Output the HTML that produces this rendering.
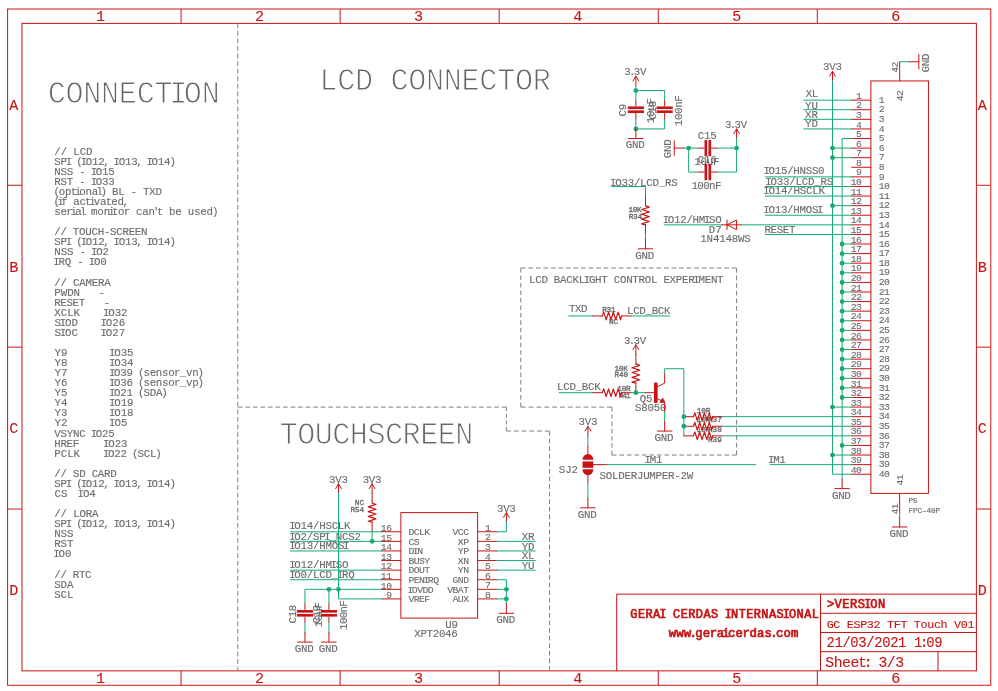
<!DOCTYPE html>
<html lang="en"><head><meta charset="utf-8"><title>GC ESP32 TFT Touch V01 - Sheet 3/3</title>
<style>
html,body{margin:0;padding:0;background:#fff;}
svg{display:block;will-change:transform;}
text{font-family:"Liberation Mono",monospace;white-space:pre;}
</style></head><body>
<svg width="998" height="691" viewBox="0 0 998 691" fill="none" stroke-linecap="butt">
<rect x="0" y="0" width="998" height="691" fill="#ffffff"/>
<text x="95.98" y="21.3" font-size="15.13" fill="#c81414" stroke="#c81414" stroke-width="0.12">1</text>
<text x="95.98" y="683.35" font-size="15.13" fill="#c81414" stroke="#c81414" stroke-width="0.12">1</text>
<text x="255.05" y="21.3" font-size="15.13" fill="#c81414" stroke="#c81414" stroke-width="0.12">2</text>
<text x="255.05" y="683.35" font-size="15.13" fill="#c81414" stroke="#c81414" stroke-width="0.12">2</text>
<text x="414.12" y="21.3" font-size="15.13" fill="#c81414" stroke="#c81414" stroke-width="0.12">3</text>
<text x="414.12" y="683.35" font-size="15.13" fill="#c81414" stroke="#c81414" stroke-width="0.12">3</text>
<text x="573.18" y="21.3" font-size="15.13" fill="#c81414" stroke="#c81414" stroke-width="0.12">4</text>
<text x="573.18" y="683.35" font-size="15.13" fill="#c81414" stroke="#c81414" stroke-width="0.12">4</text>
<text x="732.25" y="21.3" font-size="15.13" fill="#c81414" stroke="#c81414" stroke-width="0.12">5</text>
<text x="732.25" y="683.35" font-size="15.13" fill="#c81414" stroke="#c81414" stroke-width="0.12">5</text>
<text x="891.32" y="21.3" font-size="15.13" fill="#c81414" stroke="#c81414" stroke-width="0.12">6</text>
<text x="891.32" y="683.35" font-size="15.13" fill="#c81414" stroke="#c81414" stroke-width="0.12">6</text>
<text x="9.25" y="109.63" font-size="15.13" fill="#c81414" stroke="#c81414" stroke-width="0.12">A</text>
<text x="977.75" y="109.63" font-size="15.13" fill="#c81414" stroke="#c81414" stroke-width="0.12">A</text>
<text x="9.25" y="271.5" font-size="15.13" fill="#c81414" stroke="#c81414" stroke-width="0.12">B</text>
<text x="977.75" y="271.5" font-size="15.13" fill="#c81414" stroke="#c81414" stroke-width="0.12">B</text>
<text x="9.25" y="433.36" font-size="15.13" fill="#c81414" stroke="#c81414" stroke-width="0.12">C</text>
<text x="977.75" y="433.36" font-size="15.13" fill="#c81414" stroke="#c81414" stroke-width="0.12">C</text>
<text x="9.25" y="595.23" font-size="15.13" fill="#c81414" stroke="#c81414" stroke-width="0.12">D</text>
<text x="977.75" y="595.23" font-size="15.13" fill="#c81414" stroke="#c81414" stroke-width="0.12">D</text>
<text x="630.34 637.91 645.48 653.06 659.3 665.55 673.12 680.7 688.27 695.85 703.42 710.99 718.57 724.81 731.06 738.63 746.21 753.78 761.36 768.93 776.5 782.75 788.99 796.57 804.14 811.72" y="618.2" font-size="11.91" fill="#c81414" stroke="#c81414" stroke-width="0.7">GERAI CERDAS INTERNASIONAL</text>
<text x="668.77 676.26 683.76 689.53 695.3 702.8 709.79 716.78 722.35 727.92 735.41 742.4 749.39 756.88 764.38 770.15 775.92 783.42 790.91" y="636.9" font-size="12.36" fill="#c81414" stroke="#c81414" stroke-width="0.7">www.geraicerdas.com</text>
<text x="826.93 834.62 842.3 849.99 857.67 864 870.34 878.02" y="608.3" font-size="12.08" fill="#c81414" stroke="#c81414" stroke-width="0.7">&gt;VERSION</text>
<text x="826.64 833.34 840.04 846.75 853.45 860.15 866.86 873.56 880.27 886.97 893.67 900.38 907.08 913.78 920.49 927.19 933.89 940.6 947.3 954 960.71 967.41" y="628" font-size="11.75" fill="#c81414" stroke="#c81414" stroke-width="0.12">GC ESP32 TFT Touch V01</text>
<text x="826.51 834.46 842.41 850.36 858.32 866.27 874.22 882.17 890.13 898.08 906.03 913.98 920.11 926.23 934.19" y="647" font-size="13.85" fill="#c81414" stroke="#c81414" stroke-width="0.12">21/03/2021 1:09</text>
<text x="825.28 833.66 842.03 850.41 857.99 863.65 870.1 878.48 886.85 895.23" y="666.5" font-size="14.81" fill="#c81414" stroke="#c81414" stroke-width="0.12">Sheet: 3/3</text>
<text x="54.32 60.65 66.99 73.32 79.65 85.99" y="154.6" font-size="10.82" fill="#6c6c6c" stroke="#6c6c6c" stroke-width="0.12">// LCD</text>
<text x="54.29 60.56 65.73 70.9 76.33 80.67 85.84 92.11 98.37 103.37 108.37 113.54 118.7 124.97 131.24 136.24 141.24 146.4 151.57 157.84 164.11 169.54" y="164.67" font-size="10.82" fill="#6c6c6c" stroke="#6c6c6c" stroke-width="0.12">SPI (IO12, IO13, IO14)</text>
<text x="54.29 60.53 66.78 73.03 79.28 85.53 90.68 95.83 102.07 108.32" y="174.74" font-size="10.82" fill="#6c6c6c" stroke="#6c6c6c" stroke-width="0.12">NSS - IO15</text>
<text x="54.29 60.53 66.78 73.03 79.28 85.53 90.68 95.83 102.07 108.32" y="184.81" font-size="10.82" fill="#6c6c6c" stroke="#6c6c6c" stroke-width="0.12">RST - IO33</text>
<text x="53.45 58.83 65.03 70.65 74.67 79.28 85.49 91.69 96.47 100.43 105.81 112.01 118.22 124.42 130.62 136.83 143.03 149.24 155.44" y="194.88" font-size="10.82" fill="#6c6c6c" stroke="#6c6c6c" stroke-width="0.12">(optional) BL - TXD</text>
<text x="53.46 57.27 61.32 66.98 73.22 79.47 85.12 89.17 93.81 100.06 105.71 111.37 117.61 122.59" y="204.95" font-size="10.82" fill="#6c6c6c" stroke="#6c6c6c" stroke-width="0.12">(if activated,</text>
<text x="54.29 60.54 66.37 70.59 75.24 80.06 84.87 91.12 97.37 103.63 108.27 112.33 117.99 123.82 129.65 135.9 142.15 148.4 153.05 157.1 162.76 169.01 175.27 181.52 187.77 194.02 200.27 206.52 211.95" y="215.02" font-size="10.82" fill="#6c6c6c" stroke="#6c6c6c" stroke-width="0.12">serial monitor can&#x27;t be used)</text>
<text x="54.27 60.46 66.66 72.86 79.06 85.26 91.46 97.65 103.85 110.05 116.25 122.45 128.65 134.84 141.04" y="235.16" font-size="10.82" fill="#6c6c6c" stroke="#6c6c6c" stroke-width="0.12">// TOUCH-SCREEN</text>
<text x="54.29 60.56 65.73 70.9 76.33 80.67 85.84 92.11 98.37 103.37 108.37 113.54 118.7 124.97 131.24 136.24 141.24 146.4 151.57 157.84 164.11 169.54" y="245.23" font-size="10.82" fill="#6c6c6c" stroke="#6c6c6c" stroke-width="0.12">SPI (IO12, IO13, IO14)</text>
<text x="54.31 60.63 66.94 73.25 79.56 85.88 91.08 96.28 102.6" y="255.3" font-size="10.82" fill="#6c6c6c" stroke="#6c6c6c" stroke-width="0.12">NSS - IO2</text>
<text x="53.2 58.4 64.7 71 77.3 83.61 88.8 94 100.3" y="265.37" font-size="10.82" fill="#6c6c6c" stroke="#6c6c6c" stroke-width="0.12">IRQ - IO0</text>
<text x="54.29 60.54 66.8 73.05 79.3 85.56 91.81 98.07 104.32" y="285.51" font-size="10.82" fill="#6c6c6c" stroke="#6c6c6c" stroke-width="0.12">// CAMERA</text>
<text x="54.35 60.75 67.16 73.56" y="295.58" font-size="10.82" fill="#6c6c6c" stroke="#6c6c6c" stroke-width="0.12">PWDN</text>
<text x="98.5" y="295.58" font-size="10.82" fill="#6c6c6c" stroke="#6c6c6c" stroke-width="0.12">-</text>
<text x="54.23 60.34 66.45 72.57 78.68" y="305.65" font-size="10.82" fill="#6c6c6c" stroke="#6c6c6c" stroke-width="0.12">RESET</text>
<text x="103.65" y="305.65" font-size="10.82" fill="#6c6c6c" stroke="#6c6c6c" stroke-width="0.12">-</text>
<text x="54.35 60.75 67.16 73.56" y="315.72" font-size="10.82" fill="#6c6c6c" stroke="#6c6c6c" stroke-width="0.12">XCLK</text>
<text x="102.97 108.24 114.63 121.02" y="315.72" font-size="10.82" fill="#6c6c6c" stroke="#6c6c6c" stroke-width="0.12">IO32</text>
<text x="54.38 59.72 65.05 71.53" y="325.79" font-size="10.82" fill="#6c6c6c" stroke="#6c6c6c" stroke-width="0.12">SIOD</text>
<text x="100.58 105.87 112.29 118.7" y="325.79" font-size="10.82" fill="#6c6c6c" stroke="#6c6c6c" stroke-width="0.12">IO26</text>
<text x="54.38 59.72 65.05 71.53" y="335.86" font-size="10.82" fill="#6c6c6c" stroke="#6c6c6c" stroke-width="0.12">SIOC</text>
<text x="100.58 105.87 112.29 118.7" y="335.86" font-size="10.82" fill="#6c6c6c" stroke="#6c6c6c" stroke-width="0.12">IO27</text>
<text x="54.39 60.91" y="356" font-size="10.82" fill="#6c6c6c" stroke="#6c6c6c" stroke-width="0.12">Y9</text>
<text x="108.97 114.24 120.63 127.02" y="356" font-size="10.82" fill="#6c6c6c" stroke="#6c6c6c" stroke-width="0.12">IO35</text>
<text x="54.39 60.91" y="366.07" font-size="10.82" fill="#6c6c6c" stroke="#6c6c6c" stroke-width="0.12">Y8</text>
<text x="108.97 114.24 120.63 127.02" y="366.07" font-size="10.82" fill="#6c6c6c" stroke="#6c6c6c" stroke-width="0.12">IO34</text>
<text x="54.39 60.91" y="376.14" font-size="10.82" fill="#6c6c6c" stroke="#6c6c6c" stroke-width="0.12">Y7</text>
<text x="108.93 114.04 120.25 126.45 132.66 138.04 143.43 149.63 155.84 162.04 168.25 174.03 179.82 186.02 192.23 197.61" y="376.14" font-size="10.82" fill="#6c6c6c" stroke="#6c6c6c" stroke-width="0.12">IO39 (sensor_vn)</text>
<text x="54.39 60.91" y="386.21" font-size="10.82" fill="#6c6c6c" stroke="#6c6c6c" stroke-width="0.12">Y6</text>
<text x="108.93 114.04 120.25 126.45 132.66 138.04 143.43 149.63 155.84 162.04 168.25 174.03 179.82 186.02 192.23 197.61" y="386.21" font-size="10.82" fill="#6c6c6c" stroke="#6c6c6c" stroke-width="0.12">IO36 (sensor_vp)</text>
<text x="54.39 60.91" y="396.28" font-size="10.82" fill="#6c6c6c" stroke="#6c6c6c" stroke-width="0.12">Y5</text>
<text x="108.93 114.06 120.27 126.49 132.7 138.09 143.49 149.7 155.92 161.31" y="396.28" font-size="10.82" fill="#6c6c6c" stroke="#6c6c6c" stroke-width="0.12">IO21 (SDA)</text>
<text x="54.39 60.91" y="406.35" font-size="10.82" fill="#6c6c6c" stroke="#6c6c6c" stroke-width="0.12">Y4</text>
<text x="108.97 114.24 120.63 127.02" y="406.35" font-size="10.82" fill="#6c6c6c" stroke="#6c6c6c" stroke-width="0.12">IO19</text>
<text x="54.39 60.91" y="416.42" font-size="10.82" fill="#6c6c6c" stroke="#6c6c6c" stroke-width="0.12">Y3</text>
<text x="108.97 114.24 120.63 127.02" y="416.42" font-size="10.82" fill="#6c6c6c" stroke="#6c6c6c" stroke-width="0.12">IO18</text>
<text x="54.39 60.91" y="426.49" font-size="10.82" fill="#6c6c6c" stroke="#6c6c6c" stroke-width="0.12">Y2</text>
<text x="109.01 114.4 120.95" y="426.49" font-size="10.82" fill="#6c6c6c" stroke="#6c6c6c" stroke-width="0.12">IO5</text>
<text x="54.29 60.53 66.78 73.03 79.28 85.53 90.68 95.83 102.07 108.32" y="436.56" font-size="10.82" fill="#6c6c6c" stroke="#6c6c6c" stroke-width="0.12">VSYNC IO25</text>
<text x="54.25 60.42 66.59 72.75" y="446.63" font-size="10.82" fill="#6c6c6c" stroke="#6c6c6c" stroke-width="0.12">HREF</text>
<text x="102.97 108.24 114.63 121.02" y="446.63" font-size="10.82" fill="#6c6c6c" stroke="#6c6c6c" stroke-width="0.12">IO23</text>
<text x="54.35 60.75 67.16 73.56" y="456.7" font-size="10.82" fill="#6c6c6c" stroke="#6c6c6c" stroke-width="0.12">PCLK</text>
<text x="102.93 108.06 114.27 120.49 126.7 132.09 137.49 143.7 149.92 155.31" y="456.7" font-size="10.82" fill="#6c6c6c" stroke="#6c6c6c" stroke-width="0.12">IO22 (SCL)</text>
<text x="54.28 60.51 66.73 72.96 79.19 85.42 91.65 97.87 104.1 110.33" y="476.84" font-size="10.82" fill="#6c6c6c" stroke="#6c6c6c" stroke-width="0.12">// SD CARD</text>
<text x="54.29 60.56 65.73 70.9 76.33 80.67 85.84 92.11 98.37 103.37 108.37 113.54 118.7 124.97 131.24 136.24 141.24 146.4 151.57 157.84 164.11 169.54" y="486.91" font-size="10.82" fill="#6c6c6c" stroke="#6c6c6c" stroke-width="0.12">SPI (IO12, IO13, IO14)</text>
<text x="54.39 60.91" y="496.98" font-size="10.82" fill="#6c6c6c" stroke="#6c6c6c" stroke-width="0.12">CS</text>
<text x="77.58 82.88 89.3" y="496.98" font-size="10.82" fill="#6c6c6c" stroke="#6c6c6c" stroke-width="0.12">IO4</text>
<text x="54.3 60.59 66.87 73.15 79.44 85.72 92.01" y="517.12" font-size="10.82" fill="#6c6c6c" stroke="#6c6c6c" stroke-width="0.12">// LORA</text>
<text x="54.29 60.56 65.73 70.9 76.33 80.67 85.84 92.11 98.37 103.37 108.37 113.54 118.7 124.97 131.24 136.24 141.24 146.4 151.57 157.84 164.11 169.54" y="527.19" font-size="10.82" fill="#6c6c6c" stroke="#6c6c6c" stroke-width="0.12">SPI (IO12, IO13, IO14)</text>
<text x="54.31 60.6 66.9" y="537.26" font-size="10.82" fill="#6c6c6c" stroke="#6c6c6c" stroke-width="0.12">NSS</text>
<text x="54.31 60.6 66.9" y="547.33" font-size="10.82" fill="#6c6c6c" stroke="#6c6c6c" stroke-width="0.12">RST</text>
<text x="53.23 58.53 64.95" y="557.4" font-size="10.82" fill="#6c6c6c" stroke="#6c6c6c" stroke-width="0.12">IO0</text>
<text x="54.25 60.41 66.57 72.73 78.9 85.06" y="577.54" font-size="10.82" fill="#6c6c6c" stroke="#6c6c6c" stroke-width="0.12">// RTC</text>
<text x="54.31 60.6 66.9" y="587.61" font-size="10.82" fill="#6c6c6c" stroke="#6c6c6c" stroke-width="0.12">SDA</text>
<text x="54.31 60.6 66.9" y="597.68" font-size="10.82" fill="#6c6c6c" stroke="#6c6c6c" stroke-width="0.12">SCL</text>
<text transform="translate(49.6 103.3) scale(0.97 1)" x="-2.04 16.33 34.69 53.05 71.41 89.78 108.14 123.28 138.41 156.78" y="0" font-size="31.1" fill="#666666" stroke="#fff" stroke-width="1">CONNECTION</text>
<text transform="translate(321.4 89.5) scale(0.97 1)" x="-2.05 16.27 34.59 52.92 71.24 89.56 107.89 126.21 144.53 162.85 181.18 199.5 217.82" y="0" font-size="31.1" fill="#666666" stroke="#fff" stroke-width="1">LCD CONNECTOR</text>
<text transform="translate(281.7 444.4) scale(0.97 1)" x="-2.14 15.97 34.08 52.19 70.29 88.4 106.51 124.62 142.72 160.83 178.94" y="0" font-size="31.1" fill="#666666" stroke="#fff" stroke-width="1">TOUCHSCREEN</text>
<text x="856.05" y="98.74" font-size="9.79" fill="#6c6c6c" stroke="#6c6c6c" stroke-width="0.12">1</text>
<text x="878.68" y="102.84" font-size="9.79" fill="#6c6c6c" stroke="#6c6c6c" stroke-width="0.12">1</text>
<text x="856.05" y="108.33" font-size="9.79" fill="#6c6c6c" stroke="#6c6c6c" stroke-width="0.12">2</text>
<text x="878.68" y="112.43" font-size="9.79" fill="#6c6c6c" stroke="#6c6c6c" stroke-width="0.12">2</text>
<text x="856.05" y="117.92" font-size="9.79" fill="#6c6c6c" stroke="#6c6c6c" stroke-width="0.12">3</text>
<text x="878.68" y="122.02" font-size="9.79" fill="#6c6c6c" stroke="#6c6c6c" stroke-width="0.12">3</text>
<text x="856.05" y="127.51" font-size="9.79" fill="#6c6c6c" stroke="#6c6c6c" stroke-width="0.12">4</text>
<text x="878.68" y="131.61" font-size="9.79" fill="#6c6c6c" stroke="#6c6c6c" stroke-width="0.12">4</text>
<text x="856.05" y="137.11" font-size="9.79" fill="#6c6c6c" stroke="#6c6c6c" stroke-width="0.12">5</text>
<text x="878.68" y="141.21" font-size="9.79" fill="#6c6c6c" stroke="#6c6c6c" stroke-width="0.12">5</text>
<text x="856.05" y="146.7" font-size="9.79" fill="#6c6c6c" stroke="#6c6c6c" stroke-width="0.12">6</text>
<text x="878.68" y="150.8" font-size="9.79" fill="#6c6c6c" stroke="#6c6c6c" stroke-width="0.12">6</text>
<text x="856.05" y="156.29" font-size="9.79" fill="#6c6c6c" stroke="#6c6c6c" stroke-width="0.12">7</text>
<text x="878.68" y="160.39" font-size="9.79" fill="#6c6c6c" stroke="#6c6c6c" stroke-width="0.12">7</text>
<text x="856.05" y="165.88" font-size="9.79" fill="#6c6c6c" stroke="#6c6c6c" stroke-width="0.12">8</text>
<text x="878.68" y="169.98" font-size="9.79" fill="#6c6c6c" stroke="#6c6c6c" stroke-width="0.12">8</text>
<text x="856.05" y="175.47" font-size="9.79" fill="#6c6c6c" stroke="#6c6c6c" stroke-width="0.12">9</text>
<text x="878.68" y="179.57" font-size="9.79" fill="#6c6c6c" stroke="#6c6c6c" stroke-width="0.12">9</text>
<text x="850.72 856.05" y="185.07" font-size="9.79" fill="#6c6c6c" stroke="#6c6c6c" stroke-width="0.12">10</text>
<text x="878.68 884.01" y="189.17" font-size="9.79" fill="#6c6c6c" stroke="#6c6c6c" stroke-width="0.12">10</text>
<text x="850.72 856.05" y="194.66" font-size="9.79" fill="#6c6c6c" stroke="#6c6c6c" stroke-width="0.12">11</text>
<text x="878.68 884.01" y="198.76" font-size="9.79" fill="#6c6c6c" stroke="#6c6c6c" stroke-width="0.12">11</text>
<text x="850.72 856.05" y="204.25" font-size="9.79" fill="#6c6c6c" stroke="#6c6c6c" stroke-width="0.12">12</text>
<text x="878.68 884.01" y="208.35" font-size="9.79" fill="#6c6c6c" stroke="#6c6c6c" stroke-width="0.12">12</text>
<text x="850.72 856.05" y="213.84" font-size="9.79" fill="#6c6c6c" stroke="#6c6c6c" stroke-width="0.12">13</text>
<text x="878.68 884.01" y="217.94" font-size="9.79" fill="#6c6c6c" stroke="#6c6c6c" stroke-width="0.12">13</text>
<text x="850.72 856.05" y="223.43" font-size="9.79" fill="#6c6c6c" stroke="#6c6c6c" stroke-width="0.12">14</text>
<text x="878.68 884.01" y="227.53" font-size="9.79" fill="#6c6c6c" stroke="#6c6c6c" stroke-width="0.12">14</text>
<text x="850.72 856.05" y="233.03" font-size="9.79" fill="#6c6c6c" stroke="#6c6c6c" stroke-width="0.12">15</text>
<text x="878.68 884.01" y="237.13" font-size="9.79" fill="#6c6c6c" stroke="#6c6c6c" stroke-width="0.12">15</text>
<text x="850.72 856.05" y="242.62" font-size="9.79" fill="#6c6c6c" stroke="#6c6c6c" stroke-width="0.12">16</text>
<text x="878.68 884.01" y="246.72" font-size="9.79" fill="#6c6c6c" stroke="#6c6c6c" stroke-width="0.12">16</text>
<text x="850.72 856.05" y="252.21" font-size="9.79" fill="#6c6c6c" stroke="#6c6c6c" stroke-width="0.12">17</text>
<text x="878.68 884.01" y="256.31" font-size="9.79" fill="#6c6c6c" stroke="#6c6c6c" stroke-width="0.12">17</text>
<text x="850.72 856.05" y="261.8" font-size="9.79" fill="#6c6c6c" stroke="#6c6c6c" stroke-width="0.12">18</text>
<text x="878.68 884.01" y="265.9" font-size="9.79" fill="#6c6c6c" stroke="#6c6c6c" stroke-width="0.12">18</text>
<text x="850.72 856.05" y="271.39" font-size="9.79" fill="#6c6c6c" stroke="#6c6c6c" stroke-width="0.12">19</text>
<text x="878.68 884.01" y="275.49" font-size="9.79" fill="#6c6c6c" stroke="#6c6c6c" stroke-width="0.12">19</text>
<text x="850.72 856.05" y="280.99" font-size="9.79" fill="#6c6c6c" stroke="#6c6c6c" stroke-width="0.12">20</text>
<text x="878.68 884.01" y="285.09" font-size="9.79" fill="#6c6c6c" stroke="#6c6c6c" stroke-width="0.12">20</text>
<text x="850.72 856.05" y="290.58" font-size="9.79" fill="#6c6c6c" stroke="#6c6c6c" stroke-width="0.12">21</text>
<text x="878.68 884.01" y="294.68" font-size="9.79" fill="#6c6c6c" stroke="#6c6c6c" stroke-width="0.12">21</text>
<text x="850.72 856.05" y="300.17" font-size="9.79" fill="#6c6c6c" stroke="#6c6c6c" stroke-width="0.12">22</text>
<text x="878.68 884.01" y="304.27" font-size="9.79" fill="#6c6c6c" stroke="#6c6c6c" stroke-width="0.12">22</text>
<text x="850.72 856.05" y="309.76" font-size="9.79" fill="#6c6c6c" stroke="#6c6c6c" stroke-width="0.12">23</text>
<text x="878.68 884.01" y="313.86" font-size="9.79" fill="#6c6c6c" stroke="#6c6c6c" stroke-width="0.12">23</text>
<text x="850.72 856.05" y="319.35" font-size="9.79" fill="#6c6c6c" stroke="#6c6c6c" stroke-width="0.12">24</text>
<text x="878.68 884.01" y="323.45" font-size="9.79" fill="#6c6c6c" stroke="#6c6c6c" stroke-width="0.12">24</text>
<text x="850.72 856.05" y="328.95" font-size="9.79" fill="#6c6c6c" stroke="#6c6c6c" stroke-width="0.12">25</text>
<text x="878.68 884.01" y="333.05" font-size="9.79" fill="#6c6c6c" stroke="#6c6c6c" stroke-width="0.12">25</text>
<text x="850.72 856.05" y="338.54" font-size="9.79" fill="#6c6c6c" stroke="#6c6c6c" stroke-width="0.12">26</text>
<text x="878.68 884.01" y="342.64" font-size="9.79" fill="#6c6c6c" stroke="#6c6c6c" stroke-width="0.12">26</text>
<text x="850.72 856.05" y="348.13" font-size="9.79" fill="#6c6c6c" stroke="#6c6c6c" stroke-width="0.12">27</text>
<text x="878.68 884.01" y="352.23" font-size="9.79" fill="#6c6c6c" stroke="#6c6c6c" stroke-width="0.12">27</text>
<text x="850.72 856.05" y="357.72" font-size="9.79" fill="#6c6c6c" stroke="#6c6c6c" stroke-width="0.12">28</text>
<text x="878.68 884.01" y="361.82" font-size="9.79" fill="#6c6c6c" stroke="#6c6c6c" stroke-width="0.12">28</text>
<text x="850.72 856.05" y="367.31" font-size="9.79" fill="#6c6c6c" stroke="#6c6c6c" stroke-width="0.12">29</text>
<text x="878.68 884.01" y="371.41" font-size="9.79" fill="#6c6c6c" stroke="#6c6c6c" stroke-width="0.12">29</text>
<text x="850.72 856.05" y="376.91" font-size="9.79" fill="#6c6c6c" stroke="#6c6c6c" stroke-width="0.12">30</text>
<text x="878.68 884.01" y="381.01" font-size="9.79" fill="#6c6c6c" stroke="#6c6c6c" stroke-width="0.12">30</text>
<text x="850.72 856.05" y="386.5" font-size="9.79" fill="#6c6c6c" stroke="#6c6c6c" stroke-width="0.12">31</text>
<text x="878.68 884.01" y="390.6" font-size="9.79" fill="#6c6c6c" stroke="#6c6c6c" stroke-width="0.12">31</text>
<text x="850.72 856.05" y="396.09" font-size="9.79" fill="#6c6c6c" stroke="#6c6c6c" stroke-width="0.12">32</text>
<text x="878.68 884.01" y="400.19" font-size="9.79" fill="#6c6c6c" stroke="#6c6c6c" stroke-width="0.12">32</text>
<text x="850.72 856.05" y="405.68" font-size="9.79" fill="#6c6c6c" stroke="#6c6c6c" stroke-width="0.12">33</text>
<text x="878.68 884.01" y="409.78" font-size="9.79" fill="#6c6c6c" stroke="#6c6c6c" stroke-width="0.12">33</text>
<text x="850.72 856.05" y="415.27" font-size="9.79" fill="#6c6c6c" stroke="#6c6c6c" stroke-width="0.12">34</text>
<text x="878.68 884.01" y="419.37" font-size="9.79" fill="#6c6c6c" stroke="#6c6c6c" stroke-width="0.12">34</text>
<text x="850.72 856.05" y="424.87" font-size="9.79" fill="#6c6c6c" stroke="#6c6c6c" stroke-width="0.12">35</text>
<text x="878.68 884.01" y="428.97" font-size="9.79" fill="#6c6c6c" stroke="#6c6c6c" stroke-width="0.12">35</text>
<text x="850.72 856.05" y="434.46" font-size="9.79" fill="#6c6c6c" stroke="#6c6c6c" stroke-width="0.12">36</text>
<text x="878.68 884.01" y="438.56" font-size="9.79" fill="#6c6c6c" stroke="#6c6c6c" stroke-width="0.12">36</text>
<text x="850.72 856.05" y="444.05" font-size="9.79" fill="#6c6c6c" stroke="#6c6c6c" stroke-width="0.12">37</text>
<text x="878.68 884.01" y="448.15" font-size="9.79" fill="#6c6c6c" stroke="#6c6c6c" stroke-width="0.12">37</text>
<text x="850.72 856.05" y="453.64" font-size="9.79" fill="#6c6c6c" stroke="#6c6c6c" stroke-width="0.12">38</text>
<text x="878.68 884.01" y="457.74" font-size="9.79" fill="#6c6c6c" stroke="#6c6c6c" stroke-width="0.12">38</text>
<text x="850.72 856.05" y="463.23" font-size="9.79" fill="#6c6c6c" stroke="#6c6c6c" stroke-width="0.12">39</text>
<text x="878.68 884.01" y="467.33" font-size="9.79" fill="#6c6c6c" stroke="#6c6c6c" stroke-width="0.12">39</text>
<text x="850.72 856.05" y="472.83" font-size="9.79" fill="#6c6c6c" stroke="#6c6c6c" stroke-width="0.12">40</text>
<text x="878.68 884.01" y="476.93" font-size="9.79" fill="#6c6c6c" stroke="#6c6c6c" stroke-width="0.12">40</text>
<text transform="translate(929.24 62.97) rotate(-90)" x="-9.46 -3.25 2.97" y="0" font-size="10.82" fill="#6c6c6c" stroke="#6c6c6c" stroke-width="0.12">GND</text>
<text transform="translate(898 72) rotate(-90)" x="-0.82 4.51" y="0" font-size="9.79" fill="#6c6c6c" stroke="#6c6c6c" stroke-width="0.12">42</text>
<text transform="translate(903 100.4) rotate(-90)" x="-0.82 4.51" y="0" font-size="9.79" fill="#6c6c6c" stroke="#6c6c6c" stroke-width="0.12">42</text>
<text x="889.49 895.71 901.93" y="536.88" font-size="10.82" fill="#6c6c6c" stroke="#6c6c6c" stroke-width="0.12">GND</text>
<text transform="translate(898 513.8) rotate(-90)" x="-0.82 4.51" y="0" font-size="9.79" fill="#6c6c6c" stroke="#6c6c6c" stroke-width="0.12">41</text>
<text transform="translate(903 484.8) rotate(-90)" x="-0.82 4.51" y="0" font-size="9.79" fill="#6c6c6c" stroke="#6c6c6c" stroke-width="0.12">41</text>
<text x="908.57 913.09" y="503" font-size="7.73" fill="#6c6c6c" stroke="#6c6c6c" stroke-width="0.2">P5</text>
<text x="908.56 913.03 917.51 921.98 926.46 930.93 935.4" y="513.2" font-size="7.73" fill="#6c6c6c" stroke="#6c6c6c" stroke-width="0.2">FPC-40P</text>
<text x="823.05 829.27 835.48" y="70.36" font-size="10.82" fill="#6c6c6c" stroke="#6c6c6c" stroke-width="0.12">3V3</text>
<text x="831.94 838.16 844.37" y="498.51" font-size="10.82" fill="#6c6c6c" stroke="#6c6c6c" stroke-width="0.12">GND</text>
<text x="805.67 811.74" y="97.34" font-size="10.82" fill="#6c6c6c" stroke="#6c6c6c" stroke-width="0.12">XL</text>
<text x="805.04 811.56" y="108.53" font-size="10.82" fill="#6c6c6c" stroke="#6c6c6c" stroke-width="0.12">YU</text>
<text x="805.04 811.56" y="118.02" font-size="10.82" fill="#6c6c6c" stroke="#6c6c6c" stroke-width="0.12">XR</text>
<text x="805.04 811.56" y="127.31" font-size="10.82" fill="#6c6c6c" stroke="#6c6c6c" stroke-width="0.12">YD</text>
<text x="763.52 768.62 774.81 780.99 787.18 793.36 799.54 805.73 811.91 818.1" y="174.47" font-size="10.82" fill="#6c6c6c" stroke="#6c6c6c" stroke-width="0.12">IO15/HNSS0</text>
<text x="765.34 770.48 776.73 782.97 789.21 795.46 801.7 807.94 814.19 820.43 826.67" y="184.97" font-size="10.82" fill="#6c6c6c" stroke="#6c6c6c" stroke-width="0.12">IO33/LCD_RS</text>
<text x="763.34 768.5 774.76 781.02 787.28 793.53 799.79 806.05 812.31 818.57" y="193.76" font-size="10.82" fill="#6c6c6c" stroke="#6c6c6c" stroke-width="0.12">IO14/HSCLK</text>
<text x="763.33 768.45 774.67 780.88 787.1 793.31 799.53 805.74 811.95 817.08" y="212.54" font-size="10.82" fill="#6c6c6c" stroke="#6c6c6c" stroke-width="0.12">IO13/HMOSI</text>
<text x="764.4 770.55 776.7 782.86 789.01" y="232.93" font-size="10.82" fill="#6c6c6c" stroke="#6c6c6c" stroke-width="0.12">RESET</text>
<text x="768.11 773.13 779.23" y="462.63" font-size="10.82" fill="#6c6c6c" stroke="#6c6c6c" stroke-width="0.12">IM1</text>
<text x="624.22 629 633.78 639.99" y="75.16" font-size="10.82" fill="#6c6c6c" stroke="#6c6c6c" stroke-width="0.12">3.3V</text>
<text x="625.71 631.93 638.15" y="148.41" font-size="10.82" fill="#6c6c6c" stroke="#6c6c6c" stroke-width="0.12">GND</text>
<text transform="translate(626.2 110.2) rotate(-90)" x="-6.35 -0.14" y="0" font-size="10.82" fill="#6c6c6c" stroke="#6c6c6c" stroke-width="0.12">C9</text>
<text transform="translate(653.6 110.6) rotate(-90)" x="-12.57 -6.35 -0.14 6.08" y="0" font-size="10.82" fill="#6c6c6c" stroke="#6c6c6c" stroke-width="0.12">10uF</text>
<text transform="translate(655.6 110.2) rotate(-90)" x="-9.46 -3.25 2.97" y="0" font-size="10.82" fill="#6c6c6c" stroke="#6c6c6c" stroke-width="0.12">C10</text>
<text transform="translate(682.1 110.7) rotate(-90)" x="-15.51 -9.38 -3.25 2.89 9.02" y="0" font-size="10.82" fill="#6c6c6c" stroke="#6c6c6c" stroke-width="0.12">100nF</text>
<text transform="translate(670.94 148.7) rotate(-90)" x="-9.46 -3.25 2.97" y="0" font-size="10.82" fill="#6c6c6c" stroke="#6c6c6c" stroke-width="0.12">GND</text>
<text x="725.1 729.83 734.57 740.71" y="127.91" font-size="10.82" fill="#6c6c6c" stroke="#6c6c6c" stroke-width="0.12">3.3V</text>
<text x="697.84 704.05 710.27" y="138.5" font-size="10.82" fill="#6c6c6c" stroke="#6c6c6c" stroke-width="0.12">C15</text>
<text x="697.84 704.05 710.27" y="162.5" font-size="10.82" fill="#6c6c6c" stroke="#6c6c6c" stroke-width="0.12">C16</text>
<text x="694.25 700.52 706.79 713.06" y="165.2" font-size="10.82" fill="#6c6c6c" stroke="#6c6c6c" stroke-width="0.12">10uF</text>
<text x="691.39 697.27 703.15 709.04 714.92" y="188.9" font-size="10.82" fill="#6c6c6c" stroke="#6c6c6c" stroke-width="0.12">100nF</text>
<text x="610.08 615.21 621.44 627.66 633.89 640.11 646.33 652.56 658.78 665.01 671.23" y="185.5" font-size="10.82" fill="#6c6c6c" stroke="#6c6c6c" stroke-width="0.12">IO33/LCD_RS</text>
<text x="635.31 641.52 647.74" y="258.71" font-size="10.82" fill="#6c6c6c" stroke="#6c6c6c" stroke-width="0.12">GND</text>
<text x="628.56 632.78 637" y="212" font-size="7.73" fill="#707070" stroke="#707070" stroke-width="0.38">10K</text>
<text x="628.63 633.03 637.43" y="219.1" font-size="7.73" fill="#707070" stroke="#707070" stroke-width="0.38">R34</text>
<text x="662.73 667.83 674.02 680.22 686.41 692.6 698.79 703.9 709 715.19" y="222.7" font-size="10.82" fill="#6c6c6c" stroke="#6c6c6c" stroke-width="0.12">IO12/HMISO</text>
<text x="708.78 715.13" y="232.9" font-size="10.82" fill="#6c6c6c" stroke="#6c6c6c" stroke-width="0.12">D7</text>
<text x="700.35 706.62 712.89 719.17 725.44 731.71 737.99 744.26" y="241.7" font-size="10.82" fill="#6c6c6c" stroke="#6c6c6c" stroke-width="0.12">1N4148WS</text>
<text x="529.02 535.23 541.44 547.64 553.85 560.06 566.26 572.47 578.68 583.8 588.91 595.12 601.33 607.54 613.74 619.95 626.16 632.37 638.57 644.78 650.99 657.19 663.4 669.61 675.82 682.02 688.23 693.35 698.47 704.67 710.88 717.09" y="282.6" font-size="10.82" fill="#6c6c6c" stroke="#6c6c6c" stroke-width="0.12">LCD BACKLIGHT CONTROL EXPERIMENT</text>
<text x="569.11 575.05 580.99" y="312.4" font-size="10.82" fill="#6c6c6c" stroke="#6c6c6c" stroke-width="0.12">TXD</text>
<text x="627 633.17 639.34 645.5 651.67 657.84 664" y="314.1" font-size="10.82" fill="#6c6c6c" stroke="#6c6c6c" stroke-width="0.12">LCD_BCK</text>
<text x="602.13 606.53 610.93" y="311.6" font-size="7.73" fill="#707070" stroke="#707070" stroke-width="0.38">R31</text>
<text x="609.09 613.38" y="324.4" font-size="7.73" fill="#707070" stroke="#707070" stroke-width="0.38">NC</text>
<text x="624.11 628.87 633.62 639.8" y="343.73" font-size="10.82" fill="#6c6c6c" stroke="#6c6c6c" stroke-width="0.12">3.3V</text>
<text x="614.43 618.83 623.23" y="370.5" font-size="7.73" fill="#707070" stroke="#707070" stroke-width="0.38">10K</text>
<text x="614.49 619.03 623.58" y="377.2" font-size="7.73" fill="#707070" stroke="#707070" stroke-width="0.38">R40</text>
<text x="557.02 563.21 569.41 575.6 581.8 588 594.19" y="389.9" font-size="10.82" fill="#6c6c6c" stroke="#6c6c6c" stroke-width="0.12">LCD_BCK</text>
<text x="617.23 621.63 626.03" y="391.3" font-size="7.73" fill="#707070" stroke="#707070" stroke-width="0.38">10R</text>
<text x="618.63 622.28 625.93" y="398.4" font-size="7.73" fill="#707070" stroke="#707070" stroke-width="0.38">R41</text>
<text x="654.49 660.71 666.92" y="440.96" font-size="10.82" fill="#6c6c6c" stroke="#6c6c6c" stroke-width="0.12">GND</text>
<text x="639.76 646.05" y="402.4" font-size="10.82" fill="#6c6c6c" stroke="#6c6c6c" stroke-width="0.12">Q5</text>
<text x="635.02 641.24 647.45 653.67 659.88" y="410.9" font-size="10.82" fill="#6c6c6c" stroke="#6c6c6c" stroke-width="0.12">S8050</text>
<text x="696.76 701.23 705.7" y="412.77" font-size="7.73" fill="#707070" stroke="#707070" stroke-width="0.38">10R</text>
<text x="707.92 712.53 717.15" y="422.37" font-size="7.73" fill="#707070" stroke="#707070" stroke-width="0.38">R37</text>
<text x="696.76 701.23 705.7" y="422.37" font-size="7.73" fill="#707070" stroke="#707070" stroke-width="0.38">10R</text>
<text x="707.92 712.53 717.15" y="431.97" font-size="7.73" fill="#707070" stroke="#707070" stroke-width="0.38">R38</text>
<text x="696.76 701.23 705.7" y="431.96" font-size="7.73" fill="#707070" stroke="#707070" stroke-width="0.38">10R</text>
<text x="707.92 712.53 717.15" y="441.56" font-size="7.73" fill="#707070" stroke="#707070" stroke-width="0.38">R39</text>
<text x="578.45 584.67 590.89" y="425.27" font-size="10.82" fill="#6c6c6c" stroke="#6c6c6c" stroke-width="0.12">3V3</text>
<text x="644.47 649.73 656.12" y="462.5" font-size="10.82" fill="#6c6c6c" stroke="#6c6c6c" stroke-width="0.12">IM1</text>
<text x="577.75 583.97 590.19" y="517.7" font-size="10.82" fill="#6c6c6c" stroke="#6c6c6c" stroke-width="0.12">GND</text>
<text x="558.86 565.15 571.45" y="472.6" font-size="10.82" fill="#6c6c6c" stroke="#6c6c6c" stroke-width="0.12">SJ2</text>
<text x="599.62 605.84 612.06 618.28 624.5 630.72 636.94 643.15 649.37 655.59 661.81 668.03 674.25 680.47 686.68" y="478.5" font-size="10.82" fill="#6c6c6c" stroke="#6c6c6c" stroke-width="0.12">SOLDERJUMPER-2W</text>
<text x="380.82 386.15" y="530.98" font-size="9.79" fill="#6c6c6c" stroke="#6c6c6c" stroke-width="0.12">16</text>
<text x="485.08" y="530.88" font-size="9.79" fill="#6c6c6c" stroke="#6c6c6c" stroke-width="0.12">1</text>
<text x="408.38 413.71 419.04 424.36" y="534.98" font-size="9.79" fill="#6c6c6c" stroke="#6c6c6c" stroke-width="0.12">DCLK</text>
<text x="452.49 457.82 463.15" y="534.98" font-size="9.79" fill="#6c6c6c" stroke="#6c6c6c" stroke-width="0.12">VCC</text>
<text x="380.82 386.15" y="540.57" font-size="9.79" fill="#6c6c6c" stroke="#6c6c6c" stroke-width="0.12">15</text>
<text x="485.08" y="540.47" font-size="9.79" fill="#6c6c6c" stroke="#6c6c6c" stroke-width="0.12">2</text>
<text x="408.38 413.71" y="544.57" font-size="9.79" fill="#6c6c6c" stroke="#6c6c6c" stroke-width="0.12">CS</text>
<text x="457.82 463.15" y="544.57" font-size="9.79" fill="#6c6c6c" stroke="#6c6c6c" stroke-width="0.12">XP</text>
<text x="380.82 386.15" y="550.16" font-size="9.79" fill="#6c6c6c" stroke="#6c6c6c" stroke-width="0.12">14</text>
<text x="485.08" y="550.06" font-size="9.79" fill="#6c6c6c" stroke="#6c6c6c" stroke-width="0.12">3</text>
<text x="408.38 412.77 417.16" y="554.16" font-size="9.79" fill="#6c6c6c" stroke="#6c6c6c" stroke-width="0.12">DIN</text>
<text x="457.82 463.15" y="554.16" font-size="9.79" fill="#6c6c6c" stroke="#6c6c6c" stroke-width="0.12">YP</text>
<text x="380.82 386.15" y="559.75" font-size="9.79" fill="#6c6c6c" stroke="#6c6c6c" stroke-width="0.12">13</text>
<text x="485.08" y="559.65" font-size="9.79" fill="#6c6c6c" stroke="#6c6c6c" stroke-width="0.12">4</text>
<text x="408.38 413.71 419.04 424.36" y="563.75" font-size="9.79" fill="#6c6c6c" stroke="#6c6c6c" stroke-width="0.12">BUSY</text>
<text x="457.82 463.15" y="563.75" font-size="9.79" fill="#6c6c6c" stroke="#6c6c6c" stroke-width="0.12">XN</text>
<text x="380.82 386.15" y="569.35" font-size="9.79" fill="#6c6c6c" stroke="#6c6c6c" stroke-width="0.12">12</text>
<text x="485.08" y="569.25" font-size="9.79" fill="#6c6c6c" stroke="#6c6c6c" stroke-width="0.12">5</text>
<text x="408.38 413.71 419.04 424.36" y="573.35" font-size="9.79" fill="#6c6c6c" stroke="#6c6c6c" stroke-width="0.12">DOUT</text>
<text x="457.82 463.15" y="573.35" font-size="9.79" fill="#6c6c6c" stroke="#6c6c6c" stroke-width="0.12">YN</text>
<text x="380.82 386.15" y="578.94" font-size="9.79" fill="#6c6c6c" stroke="#6c6c6c" stroke-width="0.12">11</text>
<text x="485.08" y="578.84" font-size="9.79" fill="#6c6c6c" stroke="#6c6c6c" stroke-width="0.12">6</text>
<text x="408.38 413.71 419.04 423.43 427.82 433.15" y="582.94" font-size="9.79" fill="#6c6c6c" stroke="#6c6c6c" stroke-width="0.12">PENIRQ</text>
<text x="452.49 457.82 463.15" y="582.94" font-size="9.79" fill="#6c6c6c" stroke="#6c6c6c" stroke-width="0.12">GND</text>
<text x="380.82 386.15" y="588.53" font-size="9.79" fill="#6c6c6c" stroke="#6c6c6c" stroke-width="0.12">10</text>
<text x="485.08" y="588.43" font-size="9.79" fill="#6c6c6c" stroke="#6c6c6c" stroke-width="0.12">7</text>
<text x="407.44 411.84 417.16 422.49 427.82" y="592.53" font-size="9.79" fill="#6c6c6c" stroke="#6c6c6c" stroke-width="0.12">IOVDD</text>
<text x="447.16 452.49 457.82 463.15" y="592.53" font-size="9.79" fill="#6c6c6c" stroke="#6c6c6c" stroke-width="0.12">VBAT</text>
<text x="386.15" y="598.12" font-size="9.79" fill="#6c6c6c" stroke="#6c6c6c" stroke-width="0.12">9</text>
<text x="485.08" y="598.02" font-size="9.79" fill="#6c6c6c" stroke="#6c6c6c" stroke-width="0.12">8</text>
<text x="408.38 413.71 419.04 424.36" y="602.12" font-size="9.79" fill="#6c6c6c" stroke="#6c6c6c" stroke-width="0.12">VREF</text>
<text x="452.49 457.82 463.15" y="602.12" font-size="9.79" fill="#6c6c6c" stroke="#6c6c6c" stroke-width="0.12">AUX</text>
<text x="445.27 451.48" y="627.8" font-size="10.82" fill="#6c6c6c" stroke="#6c6c6c" stroke-width="0.12">U9</text>
<text x="414.3 420.45 426.6 432.75 438.91 445.06 451.21" y="637.1" font-size="10.82" fill="#6c6c6c" stroke="#6c6c6c" stroke-width="0.12">XPT2046</text>
<text x="329.06 335.28 341.49" y="482.82" font-size="10.82" fill="#6c6c6c" stroke="#6c6c6c" stroke-width="0.12">3V3</text>
<text x="362.63 368.85 375.07" y="482.82" font-size="10.82" fill="#6c6c6c" stroke="#6c6c6c" stroke-width="0.12">3V3</text>
<text x="354.66 359.4" y="504.8" font-size="7.73" fill="#707070" stroke="#707070" stroke-width="0.38">NC</text>
<text x="350.56 355.03 359.5" y="511.8" font-size="7.73" fill="#707070" stroke="#707070" stroke-width="0.38">R54</text>
<text x="289.13 294.27 300.49 306.72 312.95 319.17 325.4 331.63 337.85 344.08" y="529.28" font-size="10.82" fill="#6c6c6c" stroke="#6c6c6c" stroke-width="0.12">IO14/HSCLK</text>
<text x="289.13 294.27 300.5 306.73 312.96 319.19 324.32 329.46 335.69 341.92 348.15 354.38" y="539.87" font-size="10.82" fill="#6c6c6c" stroke="#6c6c6c" stroke-width="0.12">IO2/SPI_NCS2</text>
<text x="289.14 294.28 300.51 306.75 312.99 319.22 325.46 331.7 337.93 343.07" y="549.16" font-size="10.82" fill="#6c6c6c" stroke="#6c6c6c" stroke-width="0.12">IO13/HMOSI</text>
<text x="289.14 294.28 300.51 306.75 312.99 319.22 325.46 330.6 335.74 341.98" y="568.25" font-size="10.82" fill="#6c6c6c" stroke="#6c6c6c" stroke-width="0.12">IO12/HMISO</text>
<text x="289.14 294.29 300.55 306.8 313.05 319.3 325.56 331.81 336.96 342.12 348.37" y="578.04" font-size="10.82" fill="#6c6c6c" stroke="#6c6c6c" stroke-width="0.12">IO0/LCD_IRQ</text>
<text x="294.79 301.01 307.22" y="651.99" font-size="10.82" fill="#6c6c6c" stroke="#6c6c6c" stroke-width="0.12">GND</text>
<text x="318.77 324.99 331.2" y="651.99" font-size="10.82" fill="#6c6c6c" stroke="#6c6c6c" stroke-width="0.12">GND</text>
<text transform="translate(295.8 614.1) rotate(-90)" x="-9.46 -3.25 2.97" y="0" font-size="10.82" fill="#6c6c6c" stroke="#6c6c6c" stroke-width="0.12">C18</text>
<text transform="translate(322.2 614.6) rotate(-90)" x="-12.57 -6.35 -0.14 6.08" y="0" font-size="10.82" fill="#6c6c6c" stroke="#6c6c6c" stroke-width="0.12">10uF</text>
<text transform="translate(319.9 614.1) rotate(-90)" x="-9.46 -3.25 2.97" y="0" font-size="10.82" fill="#6c6c6c" stroke="#6c6c6c" stroke-width="0.12">C19</text>
<text transform="translate(346.6 615) rotate(-90)" x="-14.88 -9.06 -3.25 2.57 8.39" y="0" font-size="10.82" fill="#6c6c6c" stroke="#6c6c6c" stroke-width="0.12">100nF</text>
<text x="496.92 503.14 509.35" y="511.59" font-size="10.82" fill="#6c6c6c" stroke="#6c6c6c" stroke-width="0.12">3V3</text>
<text x="521.67 527.88" y="540.17" font-size="10.82" fill="#6c6c6c" stroke="#6c6c6c" stroke-width="0.12">XR</text>
<text x="521.67 527.88" y="549.76" font-size="10.82" fill="#6c6c6c" stroke="#6c6c6c" stroke-width="0.12">YD</text>
<text x="521.67 527.88" y="559.35" font-size="10.82" fill="#6c6c6c" stroke="#6c6c6c" stroke-width="0.12">XL</text>
<text x="521.67 527.88" y="568.95" font-size="10.82" fill="#6c6c6c" stroke="#6c6c6c" stroke-width="0.12">YU</text>
<text x="496.22 502.44 508.65" y="623.21" font-size="10.82" fill="#6c6c6c" stroke="#6c6c6c" stroke-width="0.12">GND</text>
<rect x="7.6" y="9.01" width="983.18" height="676.24" fill="none" stroke="#c81414"/>
<rect x="21.99" y="23.4" width="954.4" height="647.46" fill="none" stroke="#c81414"/>
<line x1="181.06" y1="9.01" x2="181.06" y2="23.4" stroke="#c81414" stroke-width="1"/>
<line x1="181.06" y1="670.86" x2="181.06" y2="685.25" stroke="#c81414" stroke-width="1"/>
<line x1="340.12" y1="9.01" x2="340.12" y2="23.4" stroke="#c81414" stroke-width="1"/>
<line x1="340.12" y1="670.86" x2="340.12" y2="685.25" stroke="#c81414" stroke-width="1"/>
<line x1="499.19" y1="9.01" x2="499.19" y2="23.4" stroke="#c81414" stroke-width="1"/>
<line x1="499.19" y1="670.86" x2="499.19" y2="685.25" stroke="#c81414" stroke-width="1"/>
<line x1="658.26" y1="9.01" x2="658.26" y2="23.4" stroke="#c81414" stroke-width="1"/>
<line x1="658.26" y1="670.86" x2="658.26" y2="685.25" stroke="#c81414" stroke-width="1"/>
<line x1="817.32" y1="9.01" x2="817.32" y2="23.4" stroke="#c81414" stroke-width="1"/>
<line x1="817.32" y1="670.86" x2="817.32" y2="685.25" stroke="#c81414" stroke-width="1"/>
<line x1="7.6" y1="185.27" x2="21.99" y2="185.27" stroke="#c81414" stroke-width="1"/>
<line x1="976.39" y1="185.27" x2="990.78" y2="185.27" stroke="#c81414" stroke-width="1"/>
<line x1="7.6" y1="347.13" x2="21.99" y2="347.13" stroke="#c81414" stroke-width="1"/>
<line x1="976.39" y1="347.13" x2="990.78" y2="347.13" stroke="#c81414" stroke-width="1"/>
<line x1="7.6" y1="509" x2="21.99" y2="509" stroke="#c81414" stroke-width="1"/>
<line x1="976.39" y1="509" x2="990.78" y2="509" stroke="#c81414" stroke-width="1"/>
<line x1="616.69" y1="594.13" x2="976.39" y2="594.13" stroke="#c81414" stroke-width="1"/>
<line x1="616.69" y1="594.13" x2="616.69" y2="670.86" stroke="#c81414" stroke-width="1"/>
<line x1="820.52" y1="594.13" x2="820.52" y2="670.86" stroke="#c81414" stroke-width="1"/>
<line x1="820.52" y1="613.31" x2="976.39" y2="613.31" stroke="#c81414" stroke-width="1"/>
<line x1="820.52" y1="632.49" x2="976.39" y2="632.49" stroke="#c81414" stroke-width="1"/>
<line x1="820.52" y1="651.68" x2="976.39" y2="651.68" stroke="#c81414" stroke-width="1"/>
<line x1="938.02" y1="651.68" x2="938.02" y2="670.86" stroke="#c81414" stroke-width="1"/>
<line x1="237.81" y1="23.4" x2="237.81" y2="670.86" stroke="#808080" stroke-width="1" stroke-dasharray="4.68 2.89"/>
<line x1="237.81" y1="407.08" x2="506.38" y2="407.08" stroke="#808080" stroke-width="1" stroke-dasharray="4.66 2.88"/>
<line x1="506.38" y1="407.08" x2="506.38" y2="431.06" stroke="#808080" stroke-width="1" stroke-dasharray="4.1 2.53"/>
<line x1="506.38" y1="431.06" x2="549.55" y2="431.06" stroke="#808080" stroke-width="1" stroke-dasharray="4.75 2.93"/>
<line x1="549.55" y1="431.06" x2="549.55" y2="670.86" stroke="#808080" stroke-width="1" stroke-dasharray="4.69 2.89"/>
<line x1="520.77" y1="268" x2="736.59" y2="268" stroke="#808080" stroke-width="1" stroke-dasharray="4.66 2.88"/>
<line x1="736.59" y1="268" x2="736.59" y2="455.04" stroke="#808080" stroke-width="1" stroke-dasharray="4.7 2.9"/>
<line x1="736.59" y1="455.04" x2="611.9" y2="455.04" stroke="#808080" stroke-width="1" stroke-dasharray="4.64 2.86"/>
<line x1="611.9" y1="455.04" x2="611.9" y2="407.08" stroke="#808080" stroke-width="1" stroke-dasharray="4.48 2.77"/>
<line x1="611.9" y1="407.08" x2="520.77" y2="407.08" stroke="#808080" stroke-width="1" stroke-dasharray="4.85 2.99"/>
<line x1="520.77" y1="407.08" x2="520.77" y2="268" stroke="#808080" stroke-width="1" stroke-dasharray="4.62 2.85"/>
<rect x="870.88" y="80.95" width="57.55" height="412.46" fill="none" stroke="#c81414"/>
<path d="M851.7 100.14 L870.88 100.14" stroke="#c81414" stroke-width="1" fill="none" stroke-linecap="round" stroke-linejoin="round"/>
<path d="M851.7 109.73 L870.88 109.73" stroke="#c81414" stroke-width="1" fill="none" stroke-linecap="round" stroke-linejoin="round"/>
<path d="M851.7 119.32 L870.88 119.32" stroke="#c81414" stroke-width="1" fill="none" stroke-linecap="round" stroke-linejoin="round"/>
<path d="M851.7 128.91 L870.88 128.91" stroke="#c81414" stroke-width="1" fill="none" stroke-linecap="round" stroke-linejoin="round"/>
<path d="M851.7 138.51 L870.88 138.51" stroke="#c81414" stroke-width="1" fill="none" stroke-linecap="round" stroke-linejoin="round"/>
<path d="M851.7 148.1 L870.88 148.1" stroke="#c81414" stroke-width="1" fill="none" stroke-linecap="round" stroke-linejoin="round"/>
<path d="M851.7 157.69 L870.88 157.69" stroke="#c81414" stroke-width="1" fill="none" stroke-linecap="round" stroke-linejoin="round"/>
<path d="M851.7 167.28 L870.88 167.28" stroke="#c81414" stroke-width="1" fill="none" stroke-linecap="round" stroke-linejoin="round"/>
<path d="M851.7 176.87 L870.88 176.87" stroke="#c81414" stroke-width="1" fill="none" stroke-linecap="round" stroke-linejoin="round"/>
<path d="M851.7 186.47 L870.88 186.47" stroke="#c81414" stroke-width="1" fill="none" stroke-linecap="round" stroke-linejoin="round"/>
<path d="M851.7 196.06 L870.88 196.06" stroke="#c81414" stroke-width="1" fill="none" stroke-linecap="round" stroke-linejoin="round"/>
<path d="M851.7 205.65 L870.88 205.65" stroke="#c81414" stroke-width="1" fill="none" stroke-linecap="round" stroke-linejoin="round"/>
<path d="M851.7 215.24 L870.88 215.24" stroke="#c81414" stroke-width="1" fill="none" stroke-linecap="round" stroke-linejoin="round"/>
<path d="M851.7 224.83 L870.88 224.83" stroke="#c81414" stroke-width="1" fill="none" stroke-linecap="round" stroke-linejoin="round"/>
<path d="M851.7 234.43 L870.88 234.43" stroke="#c81414" stroke-width="1" fill="none" stroke-linecap="round" stroke-linejoin="round"/>
<path d="M851.7 244.02 L870.88 244.02" stroke="#c81414" stroke-width="1" fill="none" stroke-linecap="round" stroke-linejoin="round"/>
<path d="M851.7 253.61 L870.88 253.61" stroke="#c81414" stroke-width="1" fill="none" stroke-linecap="round" stroke-linejoin="round"/>
<path d="M851.7 263.2 L870.88 263.2" stroke="#c81414" stroke-width="1" fill="none" stroke-linecap="round" stroke-linejoin="round"/>
<path d="M851.7 272.79 L870.88 272.79" stroke="#c81414" stroke-width="1" fill="none" stroke-linecap="round" stroke-linejoin="round"/>
<path d="M851.7 282.39 L870.88 282.39" stroke="#c81414" stroke-width="1" fill="none" stroke-linecap="round" stroke-linejoin="round"/>
<path d="M851.7 291.98 L870.88 291.98" stroke="#c81414" stroke-width="1" fill="none" stroke-linecap="round" stroke-linejoin="round"/>
<path d="M851.7 301.57 L870.88 301.57" stroke="#c81414" stroke-width="1" fill="none" stroke-linecap="round" stroke-linejoin="round"/>
<path d="M851.7 311.16 L870.88 311.16" stroke="#c81414" stroke-width="1" fill="none" stroke-linecap="round" stroke-linejoin="round"/>
<path d="M851.7 320.75 L870.88 320.75" stroke="#c81414" stroke-width="1" fill="none" stroke-linecap="round" stroke-linejoin="round"/>
<path d="M851.7 330.35 L870.88 330.35" stroke="#c81414" stroke-width="1" fill="none" stroke-linecap="round" stroke-linejoin="round"/>
<path d="M851.7 339.94 L870.88 339.94" stroke="#c81414" stroke-width="1" fill="none" stroke-linecap="round" stroke-linejoin="round"/>
<path d="M851.7 349.53 L870.88 349.53" stroke="#c81414" stroke-width="1" fill="none" stroke-linecap="round" stroke-linejoin="round"/>
<path d="M851.7 359.12 L870.88 359.12" stroke="#c81414" stroke-width="1" fill="none" stroke-linecap="round" stroke-linejoin="round"/>
<path d="M851.7 368.71 L870.88 368.71" stroke="#c81414" stroke-width="1" fill="none" stroke-linecap="round" stroke-linejoin="round"/>
<path d="M851.7 378.31 L870.88 378.31" stroke="#c81414" stroke-width="1" fill="none" stroke-linecap="round" stroke-linejoin="round"/>
<path d="M851.7 387.9 L870.88 387.9" stroke="#c81414" stroke-width="1" fill="none" stroke-linecap="round" stroke-linejoin="round"/>
<path d="M851.7 397.49 L870.88 397.49" stroke="#c81414" stroke-width="1" fill="none" stroke-linecap="round" stroke-linejoin="round"/>
<path d="M851.7 407.08 L870.88 407.08" stroke="#c81414" stroke-width="1" fill="none" stroke-linecap="round" stroke-linejoin="round"/>
<path d="M851.7 416.67 L870.88 416.67" stroke="#c81414" stroke-width="1" fill="none" stroke-linecap="round" stroke-linejoin="round"/>
<path d="M851.7 426.27 L870.88 426.27" stroke="#c81414" stroke-width="1" fill="none" stroke-linecap="round" stroke-linejoin="round"/>
<path d="M851.7 435.86 L870.88 435.86" stroke="#c81414" stroke-width="1" fill="none" stroke-linecap="round" stroke-linejoin="round"/>
<path d="M851.7 445.45 L870.88 445.45" stroke="#c81414" stroke-width="1" fill="none" stroke-linecap="round" stroke-linejoin="round"/>
<path d="M851.7 455.04 L870.88 455.04" stroke="#c81414" stroke-width="1" fill="none" stroke-linecap="round" stroke-linejoin="round"/>
<path d="M851.7 464.63 L870.88 464.63" stroke="#c81414" stroke-width="1" fill="none" stroke-linecap="round" stroke-linejoin="round"/>
<path d="M851.7 474.23 L870.88 474.23" stroke="#c81414" stroke-width="1" fill="none" stroke-linecap="round" stroke-linejoin="round"/>
<path d="M899.66 80.95 L899.66 61.77" stroke="#c81414" stroke-width="1" fill="none" stroke-linecap="round" stroke-linejoin="round"/>
<path d="M899.66 61.77 L909.25 61.77" stroke="#16aa71" stroke-width="1" fill="none" stroke-linecap="round" stroke-linejoin="round"/>
<path d="M909.25 61.77 L918.84 61.77" stroke="#c81414" stroke-width="1" fill="none" stroke-linecap="round" stroke-linejoin="round"/>
<path d="M918.84 69.06 L918.84 54.48" stroke="#c81414" stroke-width="1" fill="none" stroke-linecap="round" stroke-linejoin="round"/>
<path d="M899.66 493.41 L899.66 512.59" stroke="#c81414" stroke-width="1" fill="none" stroke-linecap="round" stroke-linejoin="round"/>
<path d="M899.66 512.59 L899.66 517.39" stroke="#16aa71" stroke-width="1" fill="none" stroke-linecap="round" stroke-linejoin="round"/>
<path d="M899.66 517.39 L899.66 526.98" stroke="#c81414" stroke-width="1" fill="none" stroke-linecap="round" stroke-linejoin="round"/>
<path d="M892.37 526.98 L906.95 526.98" stroke="#c81414" stroke-width="1" fill="none" stroke-linecap="round" stroke-linejoin="round"/>
<path d="M832.51 80.95 L832.51 71.36" stroke="#c81414" stroke-width="1" fill="none" stroke-linecap="round" stroke-linejoin="round"/>
<path d="M829.63 76.16 L832.51 71.36 L835.39 76.16" stroke="#c81414" stroke-width="1" fill="none" stroke-linecap="round" stroke-linejoin="round"/>
<path d="M832.51 80.95 L832.51 474.23 L851.7 474.23" stroke="#16aa71" stroke-width="1" fill="none" stroke-linecap="round" stroke-linejoin="round"/>
<path d="M832.51 148.1 L851.7 148.1" stroke="#16aa71" stroke-width="1" fill="none" stroke-linecap="round" stroke-linejoin="round"/>
<circle cx="832.51" cy="148.1" r="2.4" fill="#16aa71"/>
<path d="M832.51 157.69 L851.7 157.69" stroke="#16aa71" stroke-width="1" fill="none" stroke-linecap="round" stroke-linejoin="round"/>
<circle cx="832.51" cy="157.69" r="2.4" fill="#16aa71"/>
<path d="M832.51 205.65 L851.7 205.65" stroke="#16aa71" stroke-width="1" fill="none" stroke-linecap="round" stroke-linejoin="round"/>
<circle cx="832.51" cy="205.65" r="2.4" fill="#16aa71"/>
<path d="M832.51 407.08 L851.7 407.08" stroke="#16aa71" stroke-width="1" fill="none" stroke-linecap="round" stroke-linejoin="round"/>
<circle cx="832.51" cy="407.08" r="2.4" fill="#16aa71"/>
<path d="M832.51 455.04 L851.7 455.04" stroke="#16aa71" stroke-width="1" fill="none" stroke-linecap="round" stroke-linejoin="round"/>
<circle cx="832.51" cy="455.04" r="2.4" fill="#16aa71"/>
<path d="M851.7 138.51 L842.1 138.51 L842.1 479.02" stroke="#16aa71" stroke-width="1" fill="none" stroke-linecap="round" stroke-linejoin="round"/>
<path d="M842.1 397.49 L851.7 397.49" stroke="#16aa71" stroke-width="1" fill="none" stroke-linecap="round" stroke-linejoin="round"/>
<circle cx="842.1" cy="397.49" r="2.4" fill="#16aa71"/>
<path d="M842.1 387.9 L851.7 387.9" stroke="#16aa71" stroke-width="1" fill="none" stroke-linecap="round" stroke-linejoin="round"/>
<circle cx="842.1" cy="387.9" r="2.4" fill="#16aa71"/>
<path d="M842.1 378.31 L851.7 378.31" stroke="#16aa71" stroke-width="1" fill="none" stroke-linecap="round" stroke-linejoin="round"/>
<circle cx="842.1" cy="378.31" r="2.4" fill="#16aa71"/>
<path d="M842.1 368.71 L851.7 368.71" stroke="#16aa71" stroke-width="1" fill="none" stroke-linecap="round" stroke-linejoin="round"/>
<circle cx="842.1" cy="368.71" r="2.4" fill="#16aa71"/>
<path d="M842.1 359.12 L851.7 359.12" stroke="#16aa71" stroke-width="1" fill="none" stroke-linecap="round" stroke-linejoin="round"/>
<circle cx="842.1" cy="359.12" r="2.4" fill="#16aa71"/>
<path d="M842.1 349.53 L851.7 349.53" stroke="#16aa71" stroke-width="1" fill="none" stroke-linecap="round" stroke-linejoin="round"/>
<circle cx="842.1" cy="349.53" r="2.4" fill="#16aa71"/>
<path d="M842.1 339.94 L851.7 339.94" stroke="#16aa71" stroke-width="1" fill="none" stroke-linecap="round" stroke-linejoin="round"/>
<circle cx="842.1" cy="339.94" r="2.4" fill="#16aa71"/>
<path d="M842.1 330.35 L851.7 330.35" stroke="#16aa71" stroke-width="1" fill="none" stroke-linecap="round" stroke-linejoin="round"/>
<circle cx="842.1" cy="330.35" r="2.4" fill="#16aa71"/>
<path d="M842.1 320.75 L851.7 320.75" stroke="#16aa71" stroke-width="1" fill="none" stroke-linecap="round" stroke-linejoin="round"/>
<circle cx="842.1" cy="320.75" r="2.4" fill="#16aa71"/>
<path d="M842.1 311.16 L851.7 311.16" stroke="#16aa71" stroke-width="1" fill="none" stroke-linecap="round" stroke-linejoin="round"/>
<circle cx="842.1" cy="311.16" r="2.4" fill="#16aa71"/>
<path d="M842.1 301.57 L851.7 301.57" stroke="#16aa71" stroke-width="1" fill="none" stroke-linecap="round" stroke-linejoin="round"/>
<circle cx="842.1" cy="301.57" r="2.4" fill="#16aa71"/>
<path d="M842.1 291.98 L851.7 291.98" stroke="#16aa71" stroke-width="1" fill="none" stroke-linecap="round" stroke-linejoin="round"/>
<circle cx="842.1" cy="291.98" r="2.4" fill="#16aa71"/>
<path d="M842.1 282.39 L851.7 282.39" stroke="#16aa71" stroke-width="1" fill="none" stroke-linecap="round" stroke-linejoin="round"/>
<circle cx="842.1" cy="282.39" r="2.4" fill="#16aa71"/>
<path d="M842.1 272.79 L851.7 272.79" stroke="#16aa71" stroke-width="1" fill="none" stroke-linecap="round" stroke-linejoin="round"/>
<circle cx="842.1" cy="272.79" r="2.4" fill="#16aa71"/>
<path d="M842.1 263.2 L851.7 263.2" stroke="#16aa71" stroke-width="1" fill="none" stroke-linecap="round" stroke-linejoin="round"/>
<circle cx="842.1" cy="263.2" r="2.4" fill="#16aa71"/>
<path d="M842.1 253.61 L851.7 253.61" stroke="#16aa71" stroke-width="1" fill="none" stroke-linecap="round" stroke-linejoin="round"/>
<circle cx="842.1" cy="253.61" r="2.4" fill="#16aa71"/>
<path d="M842.1 244.02 L851.7 244.02" stroke="#16aa71" stroke-width="1" fill="none" stroke-linecap="round" stroke-linejoin="round"/>
<circle cx="842.1" cy="244.02" r="2.4" fill="#16aa71"/>
<path d="M842.1 445.45 L851.7 445.45" stroke="#16aa71" stroke-width="1" fill="none" stroke-linecap="round" stroke-linejoin="round"/>
<circle cx="842.1" cy="445.45" r="2.4" fill="#16aa71"/>
<path d="M842.1 479.02 L842.1 488.61" stroke="#c81414" stroke-width="1" fill="none" stroke-linecap="round" stroke-linejoin="round"/>
<path d="M834.81 488.61 L849.39 488.61" stroke="#c81414" stroke-width="1" fill="none" stroke-linecap="round" stroke-linejoin="round"/>
<path d="M803.74 100.14 L851.7 100.14" stroke="#16aa71" stroke-width="1" fill="none" stroke-linecap="round" stroke-linejoin="round"/>
<path d="M803.74 109.73 L851.7 109.73" stroke="#16aa71" stroke-width="1" fill="none" stroke-linecap="round" stroke-linejoin="round"/>
<path d="M803.74 119.32 L851.7 119.32" stroke="#16aa71" stroke-width="1" fill="none" stroke-linecap="round" stroke-linejoin="round"/>
<path d="M803.74 128.91 L851.7 128.91" stroke="#16aa71" stroke-width="1" fill="none" stroke-linecap="round" stroke-linejoin="round"/>
<path d="M765.37 176.87 L851.7 176.87" stroke="#16aa71" stroke-width="1" fill="none" stroke-linecap="round" stroke-linejoin="round"/>
<path d="M765.37 186.47 L851.7 186.47" stroke="#16aa71" stroke-width="1" fill="none" stroke-linecap="round" stroke-linejoin="round"/>
<path d="M765.37 196.06 L851.7 196.06" stroke="#16aa71" stroke-width="1" fill="none" stroke-linecap="round" stroke-linejoin="round"/>
<path d="M765.37 215.24 L851.7 215.24" stroke="#16aa71" stroke-width="1" fill="none" stroke-linecap="round" stroke-linejoin="round"/>
<path d="M765.37 234.43 L851.7 234.43" stroke="#16aa71" stroke-width="1" fill="none" stroke-linecap="round" stroke-linejoin="round"/>
<path d="M770.16 464.63 L851.7 464.63" stroke="#16aa71" stroke-width="1" fill="none" stroke-linecap="round" stroke-linejoin="round"/>
<path d="M635.88 85.75 L635.88 76.16" stroke="#c81414" stroke-width="1" fill="none" stroke-linecap="round" stroke-linejoin="round"/>
<path d="M633 80.95 L635.88 76.16 L638.75 80.95" stroke="#c81414" stroke-width="1" fill="none" stroke-linecap="round" stroke-linejoin="round"/>
<path d="M635.88 85.75 L635.88 100.14" stroke="#16aa71" stroke-width="1" fill="none" stroke-linecap="round" stroke-linejoin="round"/>
<path d="M635.88 90.55 L664.65 90.55 L664.65 100.14" stroke="#16aa71" stroke-width="1" fill="none" stroke-linecap="round" stroke-linejoin="round"/>
<circle cx="635.88" cy="90.55" r="2.4" fill="#16aa71"/>
<line x1="635.88" y1="100.14" x2="635.88" y2="106.43" stroke="#c81414" stroke-width="1"/>
<line x1="635.88" y1="113.03" x2="635.88" y2="119.32" stroke="#c81414" stroke-width="1"/>
<rect x="627.78" y="106.43" width="16.2" height="2.65" fill="#c81414"/>
<rect x="627.78" y="110.38" width="16.2" height="2.65" fill="#c81414"/>
<line x1="664.65" y1="100.14" x2="664.65" y2="106.43" stroke="#c81414" stroke-width="1"/>
<line x1="664.65" y1="113.03" x2="664.65" y2="119.32" stroke="#c81414" stroke-width="1"/>
<rect x="656.55" y="106.43" width="16.2" height="2.65" fill="#c81414"/>
<rect x="656.55" y="110.38" width="16.2" height="2.65" fill="#c81414"/>
<path d="M635.88 119.32 L635.88 128.91" stroke="#16aa71" stroke-width="1" fill="none" stroke-linecap="round" stroke-linejoin="round"/>
<path d="M664.65 119.32 L664.65 128.91 L635.88 128.91" stroke="#16aa71" stroke-width="1" fill="none" stroke-linecap="round" stroke-linejoin="round"/>
<circle cx="635.88" cy="128.91" r="2.4" fill="#16aa71"/>
<path d="M635.88 128.91 L635.88 138.51" stroke="#c81414" stroke-width="1" fill="none" stroke-linecap="round" stroke-linejoin="round"/>
<path d="M628.59 138.51 L643.17 138.51" stroke="#c81414" stroke-width="1" fill="none" stroke-linecap="round" stroke-linejoin="round"/>
<path d="M683.84 148.1 L674.24 148.1" stroke="#c81414" stroke-width="1" fill="none" stroke-linecap="round" stroke-linejoin="round"/>
<path d="M674.24 155.39 L674.24 140.81" stroke="#c81414" stroke-width="1" fill="none" stroke-linecap="round" stroke-linejoin="round"/>
<path d="M683.84 148.1 L698.22 148.1" stroke="#16aa71" stroke-width="1" fill="none" stroke-linecap="round" stroke-linejoin="round"/>
<circle cx="688.63" cy="148.1" r="2.4" fill="#16aa71"/>
<line x1="698.22" y1="148.1" x2="704.52" y2="148.1" stroke="#c81414" stroke-width="1"/>
<line x1="711.12" y1="148.1" x2="717.41" y2="148.1" stroke="#c81414" stroke-width="1"/>
<rect x="704.52" y="140" width="2.65" height="16.2" fill="#c81414"/>
<rect x="708.47" y="140" width="2.65" height="16.2" fill="#c81414"/>
<path d="M717.41 148.1 L736.59 148.1" stroke="#16aa71" stroke-width="1" fill="none" stroke-linecap="round" stroke-linejoin="round"/>
<circle cx="736.59" cy="148.1" r="2.4" fill="#16aa71"/>
<path d="M736.59 138.51 L736.59 128.91" stroke="#c81414" stroke-width="1" fill="none" stroke-linecap="round" stroke-linejoin="round"/>
<path d="M733.71 133.71 L736.59 128.91 L739.47 133.71" stroke="#c81414" stroke-width="1" fill="none" stroke-linecap="round" stroke-linejoin="round"/>
<path d="M736.59 138.51 L736.59 172.08 L717.41 172.08" stroke="#16aa71" stroke-width="1" fill="none" stroke-linecap="round" stroke-linejoin="round"/>
<path d="M688.63 148.1 L688.63 172.08 L698.22 172.08" stroke="#16aa71" stroke-width="1" fill="none" stroke-linecap="round" stroke-linejoin="round"/>
<line x1="698.22" y1="172.08" x2="704.52" y2="172.08" stroke="#c81414" stroke-width="1"/>
<line x1="711.12" y1="172.08" x2="717.41" y2="172.08" stroke="#c81414" stroke-width="1"/>
<rect x="704.52" y="163.98" width="2.65" height="16.2" fill="#c81414"/>
<rect x="708.47" y="163.98" width="2.65" height="16.2" fill="#c81414"/>
<path d="M611.9 186.47 L645.47 186.47 L645.47 196.06" stroke="#16aa71" stroke-width="1" fill="none" stroke-linecap="round" stroke-linejoin="round"/>
<path d="M645.47 196.06 L645.47 205.65" stroke="#c81414" stroke-width="1" fill="none" stroke-linecap="round" stroke-linejoin="round"/>
<path d="M645.47 205.65 L649.3 207.09 L641.63 209.49 L649.3 211.88 L641.63 214.28 L649.3 216.68 L641.63 219.08 L649.3 221.48 L641.63 223.87 L645.47 224.83" stroke="#c81414" stroke-width="1.2" fill="none" stroke-linecap="round" stroke-linejoin="round"/>
<path d="M645.47 224.83 L645.47 234.43" stroke="#c81414" stroke-width="1" fill="none" stroke-linecap="round" stroke-linejoin="round"/>
<path d="M645.47 234.43 L645.47 239.22" stroke="#16aa71" stroke-width="1" fill="none" stroke-linecap="round" stroke-linejoin="round"/>
<path d="M645.47 239.22 L645.47 248.81" stroke="#c81414" stroke-width="1" fill="none" stroke-linecap="round" stroke-linejoin="round"/>
<path d="M638.18 248.81 L652.76 248.81" stroke="#c81414" stroke-width="1" fill="none" stroke-linecap="round" stroke-linejoin="round"/>
<path d="M664.65 224.83 L722.2 224.83" stroke="#16aa71" stroke-width="1" fill="none" stroke-linecap="round" stroke-linejoin="round"/>
<path d="M722.2 224.83 L741.39 224.83" stroke="#c81414" stroke-width="1" fill="none" stroke-linecap="round" stroke-linejoin="round"/>
<path d="M727 229.63 L727 220.04" stroke="#c81414" stroke-width="1" fill="none" stroke-linecap="round" stroke-linejoin="round"/>
<path d="M727 224.83 L736.59 220.04 L736.59 229.63 L727 224.83" stroke="#c81414" stroke-width="1" fill="none" stroke-linecap="round" stroke-linejoin="round"/>
<path d="M741.39 224.83 L851.7 224.83" stroke="#16aa71" stroke-width="1" fill="none" stroke-linecap="round" stroke-linejoin="round"/>
<path d="M568.73 315.96 L592.71 315.96" stroke="#16aa71" stroke-width="1" fill="none" stroke-linecap="round" stroke-linejoin="round"/>
<path d="M592.71 315.96 L602.3 315.96" stroke="#c81414" stroke-width="1" fill="none" stroke-linecap="round" stroke-linejoin="round"/>
<path d="M602.3 315.96 L603.74 312.12 L606.14 319.79 L608.54 312.12 L610.94 319.79 L613.33 312.12 L615.73 319.79 L618.13 312.12 L620.53 319.79 L621.49 315.96" stroke="#c81414" stroke-width="1.2" fill="none" stroke-linecap="round" stroke-linejoin="round"/>
<path d="M621.49 315.96 L631.08 315.96" stroke="#c81414" stroke-width="1" fill="none" stroke-linecap="round" stroke-linejoin="round"/>
<path d="M631.08 315.96 L669.45 315.96" stroke="#16aa71" stroke-width="1" fill="none" stroke-linecap="round" stroke-linejoin="round"/>
<path d="M635.88 354.33 L635.88 344.73" stroke="#c81414" stroke-width="1" fill="none" stroke-linecap="round" stroke-linejoin="round"/>
<path d="M633 349.53 L635.88 344.73 L638.75 349.53" stroke="#c81414" stroke-width="1" fill="none" stroke-linecap="round" stroke-linejoin="round"/>
<path d="M635.88 354.33 L635.88 363.92" stroke="#c81414" stroke-width="1" fill="none" stroke-linecap="round" stroke-linejoin="round"/>
<path d="M635.88 363.92 L639.71 365.36 L632.04 367.75 L639.71 370.15 L632.04 372.55 L639.71 374.95 L632.04 377.35 L639.71 379.74 L632.04 382.14 L635.88 383.1" stroke="#c81414" stroke-width="1.2" fill="none" stroke-linecap="round" stroke-linejoin="round"/>
<path d="M635.88 383.1 L635.88 392.69" stroke="#c81414" stroke-width="1" fill="none" stroke-linecap="round" stroke-linejoin="round"/>
<circle cx="635.88" cy="392.69" r="2.4" fill="#16aa71"/>
<path d="M559.14 392.69 L592.71 392.69" stroke="#16aa71" stroke-width="1" fill="none" stroke-linecap="round" stroke-linejoin="round"/>
<path d="M592.71 392.69 L602.3 392.69" stroke="#c81414" stroke-width="1" fill="none" stroke-linecap="round" stroke-linejoin="round"/>
<path d="M602.3 392.69 L603.74 388.86 L606.14 396.53 L608.54 388.86 L610.94 396.53 L613.33 388.86 L615.73 396.53 L618.13 388.86 L620.53 396.53 L621.49 392.69" stroke="#c81414" stroke-width="1.2" fill="none" stroke-linecap="round" stroke-linejoin="round"/>
<path d="M621.49 392.69 L631.08 392.69" stroke="#c81414" stroke-width="1" fill="none" stroke-linecap="round" stroke-linejoin="round"/>
<path d="M631.08 392.69 L645.47 392.69" stroke="#16aa71" stroke-width="1" fill="none" stroke-linecap="round" stroke-linejoin="round"/>
<path d="M645.47 392.69 L655.06 392.69" stroke="#c81414" stroke-width="1" fill="none" stroke-linecap="round" stroke-linejoin="round"/>
<rect x="653.96" y="382.5" width="3.7" height="20.38" rx="1.2" fill="#c81414"/>
<path d="M664.65 373.51 L664.65 383.1 L656.98 386.94" stroke="#c81414" stroke-width="1" fill="none" stroke-linecap="round" stroke-linejoin="round"/>
<path d="M656.98 398.45 L663.69 401.81" stroke="#c81414" stroke-width="1" fill="none" stroke-linecap="round" stroke-linejoin="round"/>
<path d="M664.65 402.29 L664.65 411.88" stroke="#c81414" stroke-width="1" fill="none" stroke-linecap="round" stroke-linejoin="round"/>
<path d="M665.05 402.59 L659.75 402.59 L662.65 397.89 Z" stroke="#c81414" stroke-width="0.6" fill="#c81414"/>
<path d="M664.65 373.51 L664.65 368.71 L683.84 368.71 L683.84 435.86" stroke="#16aa71" stroke-width="1" fill="none" stroke-linecap="round" stroke-linejoin="round"/>
<path d="M664.65 411.88 L664.65 421.47" stroke="#16aa71" stroke-width="1" fill="none" stroke-linecap="round" stroke-linejoin="round"/>
<path d="M664.65 421.47 L664.65 431.06" stroke="#c81414" stroke-width="1" fill="none" stroke-linecap="round" stroke-linejoin="round"/>
<path d="M657.36 431.06 L671.94 431.06" stroke="#c81414" stroke-width="1" fill="none" stroke-linecap="round" stroke-linejoin="round"/>
<path d="M683.84 416.67 L693.43 416.67" stroke="#c81414" stroke-width="1" fill="none" stroke-linecap="round" stroke-linejoin="round"/>
<path d="M693.43 416.67 L694.87 412.84 L697.26 420.51 L699.66 412.84 L702.06 420.51 L704.46 412.84 L706.86 420.51 L709.25 412.84 L711.65 420.51 L712.61 416.67" stroke="#c81414" stroke-width="1.2" fill="none" stroke-linecap="round" stroke-linejoin="round"/>
<path d="M712.61 416.67 L722.2 416.67" stroke="#c81414" stroke-width="1" fill="none" stroke-linecap="round" stroke-linejoin="round"/>
<path d="M722.2 416.67 L851.7 416.67" stroke="#16aa71" stroke-width="1" fill="none" stroke-linecap="round" stroke-linejoin="round"/>
<path d="M683.84 426.27 L693.43 426.27" stroke="#c81414" stroke-width="1" fill="none" stroke-linecap="round" stroke-linejoin="round"/>
<path d="M693.43 426.27 L694.87 422.43 L697.26 430.1 L699.66 422.43 L702.06 430.1 L704.46 422.43 L706.86 430.1 L709.25 422.43 L711.65 430.1 L712.61 426.27" stroke="#c81414" stroke-width="1.2" fill="none" stroke-linecap="round" stroke-linejoin="round"/>
<path d="M712.61 426.27 L722.2 426.27" stroke="#c81414" stroke-width="1" fill="none" stroke-linecap="round" stroke-linejoin="round"/>
<path d="M722.2 426.27 L851.7 426.27" stroke="#16aa71" stroke-width="1" fill="none" stroke-linecap="round" stroke-linejoin="round"/>
<path d="M683.84 435.86 L693.43 435.86" stroke="#c81414" stroke-width="1" fill="none" stroke-linecap="round" stroke-linejoin="round"/>
<path d="M693.43 435.86 L694.87 432.02 L697.26 439.69 L699.66 432.02 L702.06 439.69 L704.46 432.02 L706.86 439.69 L709.25 432.02 L711.65 439.69 L712.61 435.86" stroke="#c81414" stroke-width="1.2" fill="none" stroke-linecap="round" stroke-linejoin="round"/>
<path d="M712.61 435.86 L722.2 435.86" stroke="#c81414" stroke-width="1" fill="none" stroke-linecap="round" stroke-linejoin="round"/>
<path d="M722.2 435.86 L851.7 435.86" stroke="#16aa71" stroke-width="1" fill="none" stroke-linecap="round" stroke-linejoin="round"/>
<circle cx="683.84" cy="416.67" r="2.4" fill="#16aa71"/>
<circle cx="683.84" cy="426.27" r="2.4" fill="#16aa71"/>
<path d="M587.92 435.86 L587.92 426.27" stroke="#c81414" stroke-width="1" fill="none" stroke-linecap="round" stroke-linejoin="round"/>
<path d="M585.04 431.06 L587.92 426.27 L590.79 431.06" stroke="#c81414" stroke-width="1" fill="none" stroke-linecap="round" stroke-linejoin="round"/>
<path d="M587.92 435.86 L587.92 445.45" stroke="#16aa71" stroke-width="1" fill="none" stroke-linecap="round" stroke-linejoin="round"/>
<line x1="587.92" y1="445.45" x2="587.92" y2="454.63" stroke="#c81414" stroke-width="1"/>
<line x1="587.92" y1="474.63" x2="587.92" y2="483.82" stroke="#c81414" stroke-width="1"/>
<line x1="592.92" y1="464.63" x2="607.1" y2="464.63" stroke="#c81414" stroke-width="1"/>
<path d="M582.52 459.83 A5.4 5.8 0 0 1 593.32 459.83 Z" fill="#c81414"/>
<rect x="582.52" y="461.43" width="10.8" height="6.4" fill="#c81414"/>
<path d="M582.52 469.33 A5.4 5.9 0 0 0 593.32 469.33 Z" fill="#c81414"/>
<path d="M607.1 464.63 L755.78 464.63" stroke="#16aa71" stroke-width="1" fill="none" stroke-linecap="round" stroke-linejoin="round"/>
<path d="M587.92 483.82 L587.92 498.21" stroke="#16aa71" stroke-width="1" fill="none" stroke-linecap="round" stroke-linejoin="round"/>
<path d="M587.92 498.21 L587.92 507.8" stroke="#c81414" stroke-width="1" fill="none" stroke-linecap="round" stroke-linejoin="round"/>
<path d="M580.63 507.8 L595.21 507.8" stroke="#c81414" stroke-width="1" fill="none" stroke-linecap="round" stroke-linejoin="round"/>
<rect x="400.87" y="512.59" width="76.74" height="105.51" fill="none" stroke="#c81414"/>
<path d="M381.69 531.78 L400.87 531.78" stroke="#c81414" stroke-width="1" fill="none" stroke-linecap="round" stroke-linejoin="round"/>
<path d="M477.61 531.78 L496.79 531.78" stroke="#c81414" stroke-width="1" fill="none" stroke-linecap="round" stroke-linejoin="round"/>
<path d="M381.69 541.37 L400.87 541.37" stroke="#c81414" stroke-width="1" fill="none" stroke-linecap="round" stroke-linejoin="round"/>
<path d="M477.61 541.37 L496.79 541.37" stroke="#c81414" stroke-width="1" fill="none" stroke-linecap="round" stroke-linejoin="round"/>
<path d="M381.69 550.96 L400.87 550.96" stroke="#c81414" stroke-width="1" fill="none" stroke-linecap="round" stroke-linejoin="round"/>
<path d="M477.61 550.96 L496.79 550.96" stroke="#c81414" stroke-width="1" fill="none" stroke-linecap="round" stroke-linejoin="round"/>
<path d="M381.69 560.55 L400.87 560.55" stroke="#c81414" stroke-width="1" fill="none" stroke-linecap="round" stroke-linejoin="round"/>
<path d="M477.61 560.55 L496.79 560.55" stroke="#c81414" stroke-width="1" fill="none" stroke-linecap="round" stroke-linejoin="round"/>
<path d="M381.69 570.15 L400.87 570.15" stroke="#c81414" stroke-width="1" fill="none" stroke-linecap="round" stroke-linejoin="round"/>
<path d="M477.61 570.15 L496.79 570.15" stroke="#c81414" stroke-width="1" fill="none" stroke-linecap="round" stroke-linejoin="round"/>
<path d="M381.69 579.74 L400.87 579.74" stroke="#c81414" stroke-width="1" fill="none" stroke-linecap="round" stroke-linejoin="round"/>
<path d="M477.61 579.74 L496.79 579.74" stroke="#c81414" stroke-width="1" fill="none" stroke-linecap="round" stroke-linejoin="round"/>
<path d="M381.69 589.33 L400.87 589.33" stroke="#c81414" stroke-width="1" fill="none" stroke-linecap="round" stroke-linejoin="round"/>
<path d="M477.61 589.33 L496.79 589.33" stroke="#c81414" stroke-width="1" fill="none" stroke-linecap="round" stroke-linejoin="round"/>
<path d="M381.69 598.92 L400.87 598.92" stroke="#c81414" stroke-width="1" fill="none" stroke-linecap="round" stroke-linejoin="round"/>
<path d="M477.61 598.92 L496.79 598.92" stroke="#c81414" stroke-width="1" fill="none" stroke-linecap="round" stroke-linejoin="round"/>
<path d="M338.52 493.41 L338.52 483.82" stroke="#c81414" stroke-width="1" fill="none" stroke-linecap="round" stroke-linejoin="round"/>
<path d="M335.65 488.61 L338.52 483.82 L341.4 488.61" stroke="#c81414" stroke-width="1" fill="none" stroke-linecap="round" stroke-linejoin="round"/>
<path d="M338.52 493.41 L338.52 598.92 L381.69 598.92" stroke="#16aa71" stroke-width="1" fill="none" stroke-linecap="round" stroke-linejoin="round"/>
<path d="M372.1 493.41 L372.1 483.82" stroke="#c81414" stroke-width="1" fill="none" stroke-linecap="round" stroke-linejoin="round"/>
<path d="M369.22 488.61 L372.1 483.82 L374.97 488.61" stroke="#c81414" stroke-width="1" fill="none" stroke-linecap="round" stroke-linejoin="round"/>
<path d="M372.1 493.41 L372.1 503" stroke="#c81414" stroke-width="1" fill="none" stroke-linecap="round" stroke-linejoin="round"/>
<path d="M372.1 503 L375.93 504.44 L368.26 506.84 L375.93 509.24 L368.26 511.63 L375.93 514.03 L368.26 516.43 L375.93 518.83 L368.26 521.23 L372.1 522.19" stroke="#c81414" stroke-width="1.2" fill="none" stroke-linecap="round" stroke-linejoin="round"/>
<path d="M372.1 522.19 L372.1 531.78" stroke="#c81414" stroke-width="1" fill="none" stroke-linecap="round" stroke-linejoin="round"/>
<path d="M372.1 531.78 L372.1 541.37" stroke="#16aa71" stroke-width="1" fill="none" stroke-linecap="round" stroke-linejoin="round"/>
<circle cx="372.1" cy="541.37" r="2.4" fill="#16aa71"/>
<path d="M290.56 531.78 L381.69 531.78" stroke="#16aa71" stroke-width="1" fill="none" stroke-linecap="round" stroke-linejoin="round"/>
<path d="M290.56 541.37 L381.69 541.37" stroke="#16aa71" stroke-width="1" fill="none" stroke-linecap="round" stroke-linejoin="round"/>
<path d="M290.56 550.96 L381.69 550.96" stroke="#16aa71" stroke-width="1" fill="none" stroke-linecap="round" stroke-linejoin="round"/>
<path d="M290.56 570.15 L381.69 570.15" stroke="#16aa71" stroke-width="1" fill="none" stroke-linecap="round" stroke-linejoin="round"/>
<path d="M290.56 579.74 L381.69 579.74" stroke="#16aa71" stroke-width="1" fill="none" stroke-linecap="round" stroke-linejoin="round"/>
<path d="M381.69 589.33 L304.95 589.33 L304.95 603.72" stroke="#16aa71" stroke-width="1" fill="none" stroke-linecap="round" stroke-linejoin="round"/>
<path d="M328.93 589.33 L328.93 603.72" stroke="#16aa71" stroke-width="1" fill="none" stroke-linecap="round" stroke-linejoin="round"/>
<circle cx="328.93" cy="589.33" r="2.4" fill="#16aa71"/>
<circle cx="338.52" cy="589.33" r="2.4" fill="#16aa71"/>
<line x1="304.95" y1="603.72" x2="304.95" y2="610.01" stroke="#c81414" stroke-width="1"/>
<line x1="304.95" y1="616.61" x2="304.95" y2="622.9" stroke="#c81414" stroke-width="1"/>
<rect x="296.85" y="610.01" width="16.2" height="2.65" fill="#c81414"/>
<rect x="296.85" y="613.96" width="16.2" height="2.65" fill="#c81414"/>
<path d="M304.95 622.9 L304.95 632.49" stroke="#16aa71" stroke-width="1" fill="none" stroke-linecap="round" stroke-linejoin="round"/>
<path d="M304.95 632.49 L304.95 642.09" stroke="#c81414" stroke-width="1" fill="none" stroke-linecap="round" stroke-linejoin="round"/>
<path d="M297.66 642.09 L312.24 642.09" stroke="#c81414" stroke-width="1" fill="none" stroke-linecap="round" stroke-linejoin="round"/>
<line x1="328.93" y1="603.72" x2="328.93" y2="610.01" stroke="#c81414" stroke-width="1"/>
<line x1="328.93" y1="616.61" x2="328.93" y2="622.9" stroke="#c81414" stroke-width="1"/>
<rect x="320.83" y="610.01" width="16.2" height="2.65" fill="#c81414"/>
<rect x="320.83" y="613.96" width="16.2" height="2.65" fill="#c81414"/>
<path d="M328.93 622.9 L328.93 632.49" stroke="#16aa71" stroke-width="1" fill="none" stroke-linecap="round" stroke-linejoin="round"/>
<path d="M328.93 632.49 L328.93 642.09" stroke="#c81414" stroke-width="1" fill="none" stroke-linecap="round" stroke-linejoin="round"/>
<path d="M321.64 642.09 L336.22 642.09" stroke="#c81414" stroke-width="1" fill="none" stroke-linecap="round" stroke-linejoin="round"/>
<path d="M506.38 522.19 L506.38 512.59" stroke="#c81414" stroke-width="1" fill="none" stroke-linecap="round" stroke-linejoin="round"/>
<path d="M503.51 517.39 L506.38 512.59 L509.26 517.39" stroke="#c81414" stroke-width="1" fill="none" stroke-linecap="round" stroke-linejoin="round"/>
<path d="M506.38 522.19 L506.38 531.78 L496.79 531.78" stroke="#16aa71" stroke-width="1" fill="none" stroke-linecap="round" stroke-linejoin="round"/>
<path d="M496.79 541.37 L535.16 541.37" stroke="#16aa71" stroke-width="1" fill="none" stroke-linecap="round" stroke-linejoin="round"/>
<path d="M496.79 550.96 L535.16 550.96" stroke="#16aa71" stroke-width="1" fill="none" stroke-linecap="round" stroke-linejoin="round"/>
<path d="M496.79 560.55 L535.16 560.55" stroke="#16aa71" stroke-width="1" fill="none" stroke-linecap="round" stroke-linejoin="round"/>
<path d="M496.79 570.15 L535.16 570.15" stroke="#16aa71" stroke-width="1" fill="none" stroke-linecap="round" stroke-linejoin="round"/>
<path d="M496.79 579.74 L506.38 579.74 L506.38 603.72" stroke="#16aa71" stroke-width="1" fill="none" stroke-linecap="round" stroke-linejoin="round"/>
<path d="M496.79 589.33 L506.38 589.33" stroke="#16aa71" stroke-width="1" fill="none" stroke-linecap="round" stroke-linejoin="round"/>
<path d="M496.79 598.92 L506.38 598.92" stroke="#16aa71" stroke-width="1" fill="none" stroke-linecap="round" stroke-linejoin="round"/>
<circle cx="506.38" cy="589.33" r="2.4" fill="#16aa71"/>
<circle cx="506.38" cy="598.92" r="2.4" fill="#16aa71"/>
<path d="M506.38 603.72 L506.38 613.31" stroke="#c81414" stroke-width="1" fill="none" stroke-linecap="round" stroke-linejoin="round"/>
<path d="M499.09 613.31 L513.67 613.31" stroke="#c81414" stroke-width="1" fill="none" stroke-linecap="round" stroke-linejoin="round"/>
</svg>
</body></html>
